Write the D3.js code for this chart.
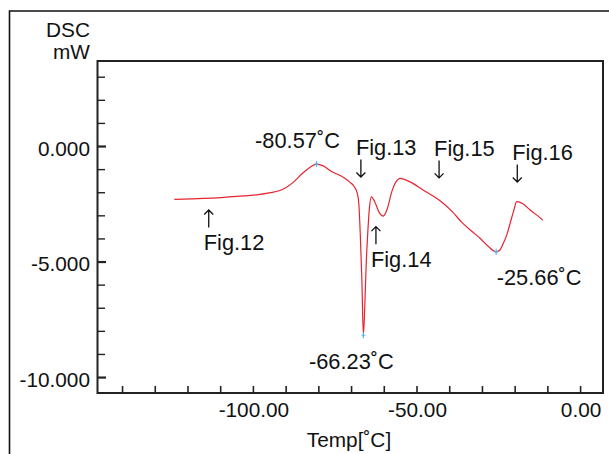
<!DOCTYPE html>
<html><head><meta charset="utf-8">
<script src="https://cdn.jsdelivr.net/npm/d3@7"></script>
<style>
body{margin:0;background:#fff}
text{font-family:"Liberation Sans",Arial,Helvetica,sans-serif;fill:#111}
</style>
</head><body>
<svg id="chart" width="609" height="454"></svg>
<script>
// ---------- data ----------
const tempC = [-124, -115, -105, -95, -90.5, -87.5, -85, -82.5, -80.57, -78.5, -76, -73, -70.5, -69, -68.1, -67.6, -67.2, -66.7, -66.23, -65.8, -65.4, -64.9, -64.4, -63.8, -62.8, -61.5, -60.2, -59, -57.5, -56, -55.1, -52, -48, -43, -39, -36.5, -33, -30.5, -28, -25.66, -24.5, -23.5, -22.3, -21.3, -20.2, -19.4, -17.5, -15.3, -13.3, -11.4];
const dscMW = [-2.31, -2.27, -2.18, -2.03, -1.85, -1.55, -1.2, -0.92, -0.78, -0.86, -1.1, -1.3, -1.55, -1.76, -2.05, -2.55, -3.77, -5.8, -8.19, -6.9, -5.2, -3.77, -2.7, -2.2, -2.4, -2.85, -3.03, -2.75, -1.95, -1.5, -1.4, -1.55, -1.9, -2.35, -2.85, -3.25, -3.7, -4.0, -4.35, -4.58, -4.5, -4.22, -3.8, -3.3, -2.75, -2.41, -2.5, -2.77, -2.98, -3.21];

const xTickValues = [-140, -130, -120, -110, -100, -90, -80, -70, -60, -50, -40, -30, -20, -10, 0];
const xTickLabels = ["-100.00", "-50.00", "0.00"];
const xLabelValues = [-100, -50, 0];
const yTickValues = [3, 2, 1, 0, -1, -2, -3, -4, -5, -6, -7, -8, -9, -10];
const yTickLabels = ["0.000", "-5.000", "-10.000"];
const yLabelValues = [0, -5, -10];

const peakTemps = [-80.57, -66.23, -25.66];
const peakValues = [-0.78, -8.19, -4.58];
const peakLabels = ["-80.57˚C", "-66.23˚C", "-25.66˚C"];

const figLabels = ["Fig.12", "Fig.13", "Fig.14", "Fig.15", "Fig.16"];
const figTemps = [-113.5, -67.0, -62.4, -43.1, -19.2];
const figTips = [-2.77, -1.34, -3.49, -1.38, -1.56];
const figDirs = ["up", "down", "up", "down", "down"];

// ---------- layout ----------
const svg = d3.select("#chart");
const L = 97.5, R = 603, T = 61, B = 393;
const x = d3.scaleLinear().domain([-147.5, 7.0]).range([L, R]);
const y = d3.scaleLinear().domain([-10.69, 3.68]).range([B, T]);
const FS = 20.8, FA = 21.8;

// outer frame
svg.append("path").attr("d", `M9.5,460 V11 H620`).attr("fill", "none")
  .attr("stroke", "#111").attr("stroke-width", 1.6);

// plot box
svg.append("rect").attr("x", L).attr("y", T).attr("width", R - L).attr("height", B - T)
  .attr("fill", "none").attr("stroke", "#222").attr("stroke-width", 2);

// x ticks (inward)
const xAxis = d3.axisTop(x).tickValues(xTickValues).tickSize(7).tickFormat("");
const gx = svg.append("g").attr("transform", `translate(0,${B})`).call(xAxis);
gx.select(".domain").remove();
gx.selectAll(".tick line").attr("stroke", "#222").attr("stroke-width", 1.6);

svg.append("g").selectAll("text").data(xLabelValues).join("text")
  .attr("x", d => x(d) + 1).attr("y", B + 24).attr("text-anchor", "middle")
  .attr("font-size", FS).text((d, i) => xTickLabels[i]);

// y ticks (inward)
const yAxis = d3.axisRight(y).tickValues(yTickValues).tickSize(7.5).tickFormat("");
const gy = svg.append("g").attr("transform", `translate(${L},0)`).call(yAxis);
gy.select(".domain").remove();
gy.selectAll(".tick line").attr("stroke", "#222")
  .attr("stroke-width", d => yLabelValues.includes(d) ? 2.2 : 1.4)
  .attr("x2", d => yLabelValues.includes(d) ? 8.5 : 7.5);

svg.append("g").selectAll("text").data(yLabelValues).join("text")
  .attr("x", 90).attr("y", d => y(d) + 9.5).attr("text-anchor", "end")
  .attr("font-size", FS).text((d, i) => yTickLabels[i]);

// axis titles
svg.append("text").attr("x", 90).attr("y", 37).attr("text-anchor", "end").attr("font-size", FS).text("DSC");
svg.append("text").attr("x", 90).attr("y", 59).attr("text-anchor", "end").attr("font-size", FS).text("mW");
svg.append("text").attr("x", 349).attr("y", 447).attr("text-anchor", "middle").attr("font-size", FS).text("Temp[˚C]");

// curve
const pts = tempC.map((t, i) => [t, dscMW[i]]);
const line = d3.line().x(d => x(d[0])).y(d => y(d[1])).curve(d3.curveMonotoneX);
svg.append("path").datum(pts).attr("d", line).attr("fill", "none")
  .attr("stroke", "#e8232d").attr("stroke-width", 1.2);

// peak markers
const mk = svg.append("g");
peakTemps.forEach((t, i) => {
  const px = x(t), py = y(peakValues[i]);
  mk.append("line").attr("x1", px).attr("x2", px).attr("y1", py - 3).attr("y2", py + 3)
    .attr("stroke", "#4fb8ee").attr("stroke-width", 1.2);
  mk.append("line").attr("x1", px - 2).attr("x2", px + 2).attr("y1", py).attr("y2", py)
    .attr("stroke", "#4fb8ee").attr("stroke-width", 1);
});

// peak labels
const peakOff = [[-19, -16], [-12, 34], [43, 33]];
svg.append("g").selectAll("text").data(peakLabels).join("text")
  .attr("x", (d, i) => x(peakTemps[i]) + peakOff[i][0])
  .attr("y", (d, i) => y(peakValues[i]) + peakOff[i][1])
  .attr("text-anchor", "middle").attr("font-size", FA).text(d => d);

// Fig annotations with arrows
const ann = svg.append("g");
figLabels.forEach((lab, i) => {
  const ax = x(figTemps[i]), tip = y(figTips[i]);
  const len = 17.5, h = 4.5;
  let d, ty;
  if (figDirs[i] === "down") {
    d = `M${ax},${tip - len} V${tip} M${ax - h},${tip - h} L${ax},${tip} L${ax + h},${tip - h}`;
    ty = tip - len - 4.5;
  } else {
    d = `M${ax},${tip + len} V${tip} M${ax - h},${tip + h} L${ax},${tip} L${ax + h},${tip + h}`;
    ty = tip + len + 22.5;
  }
  ann.append("path").attr("d", d).attr("fill", "none").attr("stroke", "#111").attr("stroke-width", 1.3);
  ann.append("text").attr("x", ax - 5).attr("y", ty).attr("font-size", FA).text(lab);
});
</script>
</body></html>
